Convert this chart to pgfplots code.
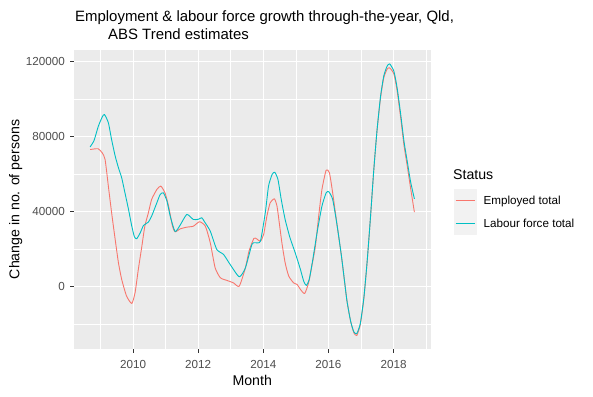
\documentclass[border=0pt]{standalone}
\usepackage{fontspec}
\setmainfont{Liberation Sans}
\usepackage{pgfplots}
\pgfplotsset{compat=1.18}
\definecolor{empcol}{HTML}{F8766D}
\definecolor{lfcol}{HTML}{00BFC4}
\definecolor{panelbg}{HTML}{EBEBEB}
\definecolor{ticktext}{HTML}{4D4D4D}
\definecolor{tickcol}{HTML}{333333}
\definecolor{keybg}{HTML}{F2F2F2}
\begin{document}
\begin{tikzpicture}[x=1bp,y=1bp]
\path[use as bounding box] (0,0) rectangle (593,396);
\begin{axis}[
  at={(74bp,47bp)}, anchor=south west,
  scale only axis, width=356.5bp, height=299bp,
  xmin=2008.185, xmax=2019.135, ymin=-33200, ymax=126300,
  axis background/.style={fill=panelbg},
  axis line style={draw=none},
  xtick={2010,2012,2014,2016,2018}, ytick={0,40000,80000,120000},
  xticklabels={2010,2012,2014,2016,2018}, yticklabels={0,40000,80000,120000},
  minor xtick={2009,2011,2013,2015,2017,2019}, minor ytick={-20000,20000,60000,100000},
  grid=both,
  major grid style={white, line width=1.1bp},
  minor grid style={white, line width=0.55bp},
  tick align=outside, tick pos=left,
  major tick length=3.67bp, minor tick length=0pt,
  tick style={tickcol, line width=0.8bp},
  scaled y ticks=false, scaled x ticks=false,
  tick label style={font=\fontsize{11.7}{13}\selectfont, text=ticktext},
  xticklabel style={anchor=base, inner sep=0pt, yshift=-16.3bp},
  yticklabel style={anchor=east, inner sep=0pt, xshift=-5.3bp},
  xlabel={Month}, ylabel={Change in no. of persons},
  label style={font=\fontsize{14.2}{16}\selectfont, text=black},
  xlabel style={at={(axis description cs:0.5,0)}, anchor=base, inner sep=0pt, yshift=-36bp},
  ylabel style={at={(axis description cs:-0.1633,0.5)}, anchor=center, inner sep=0pt},
  legend style={at={(1.0645,0.535)}, anchor=north west, draw=none, fill=none,
    inner sep=0pt, row sep=0pt, column sep=7bp,
    nodes={inner sep=0pt, font=\fontsize{11.7}{13}\selectfont, text=black}},
  legend cell align=left,
  legend image code/.code={\fill[keybg] (0bp,-11bp) rectangle (22bp,11bp);
    \draw[#1, line width=0.9bp] (1.5bp,0bp) -- (20.5bp,0bp);},
]
\addplot[empcol, line width=0.9bp, smooth, tension=0.35, line join=round] coordinates {
(2008.68,73200) (2008.80,73500) (2008.93,73600) (2009.05,71500) (2009.14,67900)
(2009.24,53700) (2009.34,39500) (2009.45,25200) (2009.55,12800) (2009.65,3900)
(2009.80,-5000) (2009.96,-8900) (2010.06,-3200) (2010.16,9200) (2010.27,21700)
(2010.36,32300) (2010.47,39500) (2010.57,46600) (2010.73,51900) (2010.85,53700)
(2010.98,50100) (2011.09,43000) (2011.21,32300) (2011.29,29300) (2011.45,30900)
(2011.65,31800) (2011.85,32300) (2012.04,34700) (2012.22,32300) (2012.37,23500)
(2012.52,10100) (2012.68,4800) (2012.88,3400) (2013.08,2100) (2013.26,300)
(2013.45,10100) (2013.56,19000) (2013.71,25800) (2013.80,25500) (2013.91,24300)
(2014.01,27900) (2014.11,37700) (2014.21,44800) (2014.34,46900) (2014.42,43000)
(2014.49,34100) (2014.57,23500) (2014.67,12800) (2014.78,5700) (2014.93,2100)
(2015.04,1200) (2015.14,-1400) (2015.27,-3600) (2015.39,2100) (2015.49,11000)
(2015.60,21700) (2015.70,37700) (2015.80,51900) (2015.93,62200) (2016.03,60800)
(2016.13,50100) (2016.27,32300) (2016.40,16300) (2016.50,2100) (2016.57,-7700)
(2016.68,-18300) (2016.78,-24500) (2016.87,-26000) (2016.98,-20100) (2017.09,-5900)
(2017.19,13700) (2017.29,36800) (2017.39,61700) (2017.49,83000) (2017.60,100800)
(2017.70,111500) (2017.80,116000) (2017.88,116800) (2018.01,113500) (2018.11,104500)
(2018.22,90000) (2018.32,75500) (2018.42,64500) (2018.52,53000) (2018.64,39800)
};
\addlegendentry{Employed total}
\addplot[lfcol, line width=0.9bp, smooth, tension=0.35, line join=round] coordinates {
(2008.68,74600) (2008.80,78000) (2008.93,85500) (2009.05,90500) (2009.12,91900)
(2009.24,87500) (2009.34,78500) (2009.45,69700) (2009.55,63500) (2009.65,58100)
(2009.75,50100) (2009.86,41200) (2009.96,32300) (2010.04,26700) (2010.11,25600)
(2010.22,28800) (2010.32,32700) (2010.47,34500) (2010.57,37700) (2010.73,44800)
(2010.83,49200) (2010.93,50100) (2011.04,45700) (2011.14,37700) (2011.29,29500)
(2011.45,33000) (2011.65,38600) (2011.85,35900) (2012.00,36000) (2012.11,36800)
(2012.20,34500) (2012.37,29700) (2012.57,19900) (2012.78,17200) (2012.98,11900)
(2013.26,5300) (2013.45,10100) (2013.65,22600) (2013.75,23500) (2013.91,24300)
(2014.06,39500) (2014.16,53700) (2014.27,59900) (2014.35,61100) (2014.45,57200)
(2014.55,46600) (2014.67,35900) (2014.82,26100) (2014.98,18100) (2015.14,9200)
(2015.24,3000) (2015.32,700) (2015.41,3900) (2015.52,14600) (2015.65,28800)
(2015.80,43000) (2015.93,50100) (2016.01,50700) (2016.13,46600) (2016.27,32300)
(2016.40,16300) (2016.50,2100) (2016.57,-7700) (2016.68,-18300) (2016.78,-24000)
(2016.87,-25000) (2016.98,-19500) (2017.09,-5500) (2017.19,13700) (2017.29,36800)
(2017.39,61700) (2017.49,83000) (2017.60,101500) (2017.70,112500) (2017.80,117600)
(2017.88,118900) (2018.01,115000) (2018.11,106100) (2018.22,91900) (2018.32,77600)
(2018.42,67000) (2018.52,56300) (2018.64,46900)
};
\addlegendentry{Labour force total}
\end{axis}
\node[anchor=base west, inner sep=0pt, font=\fontsize{15}{17}\selectfont] at (75,375) {Employment \& labour force growth through-the-year, Qld,};
\node[anchor=base west, inner sep=0pt, font=\fontsize{15}{17}\selectfont] at (108,356.7) {ABS Trend estimates};
\node[anchor=base west, inner sep=0pt, font=\fontsize{14.2}{16}\selectfont] at (453,216.7) {Status};
\end{tikzpicture}
\end{document}
